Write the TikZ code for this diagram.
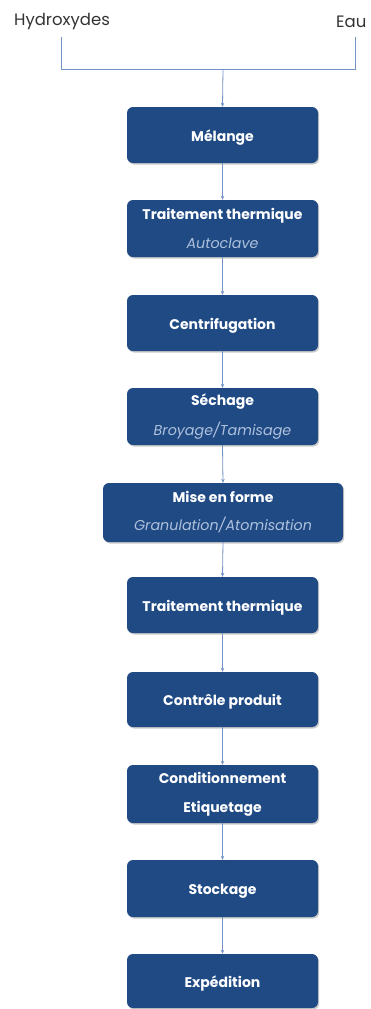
\documentclass[tikz,border=0pt]{standalone}
\usepackage{fontspec}
\setmainfont{Poppins}
\usetikzlibrary{arrows.meta,shadows}
\definecolor{boxblue}{HTML}{1F4A84}
\definecolor{subcol}{HTML}{AFC1DC}
\definecolor{linecol}{HTML}{7393C6}
\definecolor{topcol}{HTML}{333333}
\newcommand\subtxt[1]{{\fontsize{14.3}{17}\selectfont\mdseries\itshape\color{subcol}#1}}
\tikzset{
  stepbox/.style={draw=none, fill=boxblue, rounded corners=6pt, minimum width=191pt,
    minimum height=57pt, align=center, text=white, inner sep=0pt,
    font=\fontsize{14}{17}\selectfont\bfseries,
    drop shadow={shadow xshift=1.2pt, shadow yshift=-1.5pt, opacity=0.35, fill=black!60}},
  onebox/.style={stepbox, text height=12pt, text depth=0pt},
  conn/.style={draw=linecol, line width=0.8pt},
  arr/.style={conn, -{Stealth[length=4pt,width=3.5pt]}},
  toplabel/.style={font=\fontsize{16.5}{18}\selectfont, text=topcol, inner sep=0pt}
}
\begin{document}
\begin{tikzpicture}[x=1pt,y=-1pt]
\useasboundingbox (0,0) rectangle (370,1009);
\node[toplabel] (hyd) at (62,22) {Hydroxydes};
\node[toplabel, anchor=west] (eau) at (336,22) {Eau};
\coordinate (h1) at (61,37);
\coordinate (h2) at (61,69);
\coordinate (e1) at (355,37);
\coordinate (e2) at (355,69);
\coordinate (j) at (223,69);
\draw[conn] (h1) -- (h2) -- (e2) -- (e1);

\node[onebox, minimum height=56pt] (b1) at (222.5,135) {Mélange};
\node[stepbox] (b2) at (222.5,228.5) {Traitement thermique\\[12pt]\subtxt{Autoclave}};
\node[onebox, minimum height=56pt] (b3) at (222.5,323) {Centrifugation};
\node[stepbox] (b4) at (222.5,416.5) {Séchage\\[12pt]\subtxt{Broyage/Tamisage}};
\node[stepbox, minimum width=240pt, minimum height=59pt] (b5) at (223,512.5) {Mise en forme\\[11pt]\subtxt{Granulation/Atomisation}};
\node[onebox, minimum height=56pt] (b6) at (222.5,605) {Traitement thermique};
\node[onebox, minimum height=55pt] (b7) at (222.5,699.5) {Contrôle produit};
\node[stepbox, minimum height=58pt] (b8) at (222.5,794) {Conditionnement\\[12pt]Etiquetage};
\node[onebox] (b9) at (222.5,888.5) {Stockage};
\node[onebox, minimum height=54pt] (b10) at (222.5,981) {Expédition};

\draw[arr] (j) -- (b1.north);
\foreach \a/\b in {b1/b2,b2/b3,b3/b4,b4/b5,b5/b6,b6/b7,b7/b8,b8/b9,b9/b10}
  \draw[arr] (\a.south) -- (\b.north);
\end{tikzpicture}
\end{document}
